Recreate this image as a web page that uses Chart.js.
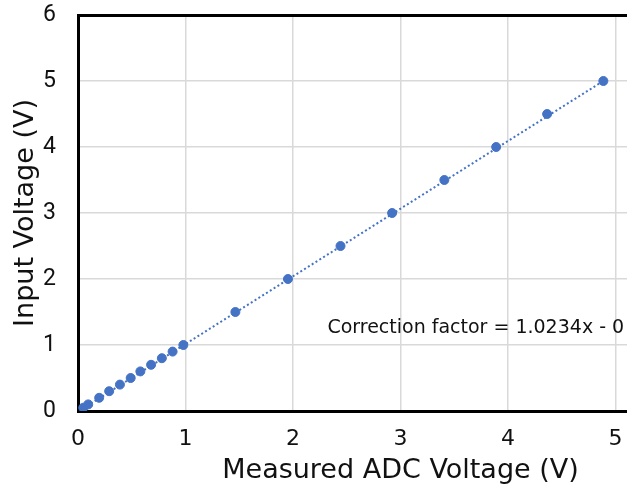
<!DOCTYPE html>
<html lang="en">
<head>
    <meta charset="UTF-8">
    <title>ADC Calibration</title>
    <style>
        html, body { margin: 0; padding: 0; background: #ffffff; overflow: hidden; }
        #wrap { width: 740px; height: 489px; }
    </style>
</head>
<body>
    <div id="wrap"><canvas id="grafico" width="740" height="489"></canvas></div>

    <script src="https://cdn.jsdelivr.net/npm/chart.js"></script>
    <script>
        // measured points
        const adcVoltage   = [0.049, 0.095, 0.197, 0.29, 0.39, 0.49, 0.58, 0.68, 0.78, 0.88, 0.98,
                              1.464, 1.953, 2.442, 2.922, 3.408, 3.89, 4.364, 4.887];
        const inputVoltage = [0.05, 0.1, 0.2, 0.3, 0.4, 0.5, 0.6, 0.7, 0.8, 0.9, 1.0,
                              1.5, 2.0, 2.5, 3.0, 3.5, 4.0, 4.5, 5.0];

        // trendline end points
        const trendX = [0.049, 4.887];
        const trendY = [0.04, 5.0];

        const xTicks = [0, 1, 2, 3, 4, 5, 6];
        const yTicks = [0, 1, 2, 3, 4, 5, 6];

        const trendLabel = 'Correction factor = 1.0234x - 0';
        const trendLabelAt = { x: 2.32, y: 1.26 };

        const blue = '#4472C4';
        const ink = '#111111';
        const fontMain = '"DejaVu Sans", sans-serif';

        const labelPlugin = {
            id: 'trendLabel',
            afterDatasetsDraw(chart) {
                const { ctx, scales } = chart;
                ctx.save();
                ctx.font = '19px ' + fontMain;
                ctx.fillStyle = ink;
                ctx.textAlign = 'left';
                ctx.textBaseline = 'middle';
                ctx.fillText(trendLabel, scales.x.getPixelForValue(trendLabelAt.x), scales.y.getPixelForValue(trendLabelAt.y));
                ctx.restore();
            }
        };

        new Chart(document.getElementById('grafico'), {
            type: 'scatter',
            data: {
                datasets: [
                    {
                        label: 'Trend',
                        type: 'line',
                        data: trendX.map((x, i) => ({ x: x, y: trendY[i] })),
                        borderColor: blue,
                        borderWidth: 2,
                        borderDash: [2, 2.5],
                        pointRadius: 0,
                        fill: false,
                        order: 2
                    },
                    {
                        label: 'Input Voltage',
                        data: adcVoltage.map((x, i) => ({ x: x, y: inputVoltage[i] })),
                        backgroundColor: blue,
                        borderColor: blue,
                        pointRadius: 4.5,
                        order: 1
                    }
                ]
            },
            options: {
                responsive: false,
                animation: false,
                layout: { padding: { left: 0, top: 15, right: 17, bottom: 0 } },
                plugins: { legend: { display: false }, tooltip: { enabled: false } },
                scales: {
                    x: {
                        type: 'linear',
                        min: 0, max: 6,
                        afterBuildTicks: s => { s.ticks = xTicks.map(v => ({ value: v })); },
                        afterFit: s => { s.height = 78; s.paddingLeft = 0; s.paddingRight = 0; },
                        grid: { color: '#d9d9d9', lineWidth: 1.5, drawTicks: false },
                        border: { color: '#000', width: 3 },
                        ticks: { color: ink, padding: 15, font: { family: fontMain, size: 22 } },
                        title: {
                            display: true, text: 'Measured ADC Voltage (V)', color: ink,
                            font: { family: fontMain, size: 27 }, padding: { top: 0, bottom: 2 }
                        }
                    },
                    y: {
                        type: 'linear',
                        min: 0, max: 6,
                        afterBuildTicks: s => { s.ticks = yTicks.map(v => ({ value: v })); },
                        afterFit: s => { s.width = 78; s.paddingTop = 0; s.paddingBottom = 0; },
                        grid: {
                            color: c => c.tick && c.tick.value === 6 ? '#000' : '#d9d9d9',
                            lineWidth: c => c.tick && c.tick.value === 6 ? 3 : 1.5,
                            drawTicks: false
                        },
                        border: { color: '#000', width: 3 },
                        ticks: { color: ink, padding: 22, font: { family: 'Roboto, sans-serif', size: 23 } },
                        title: {
                            display: true, text: 'Input Voltage (V)', color: ink,
                            font: { family: fontMain, size: 27 }, padding: { top: 10, bottom: 0 }
                        }
                    }
                }
            },
            plugins: [labelPlugin]
        });
    </script>
</body>
</html>
